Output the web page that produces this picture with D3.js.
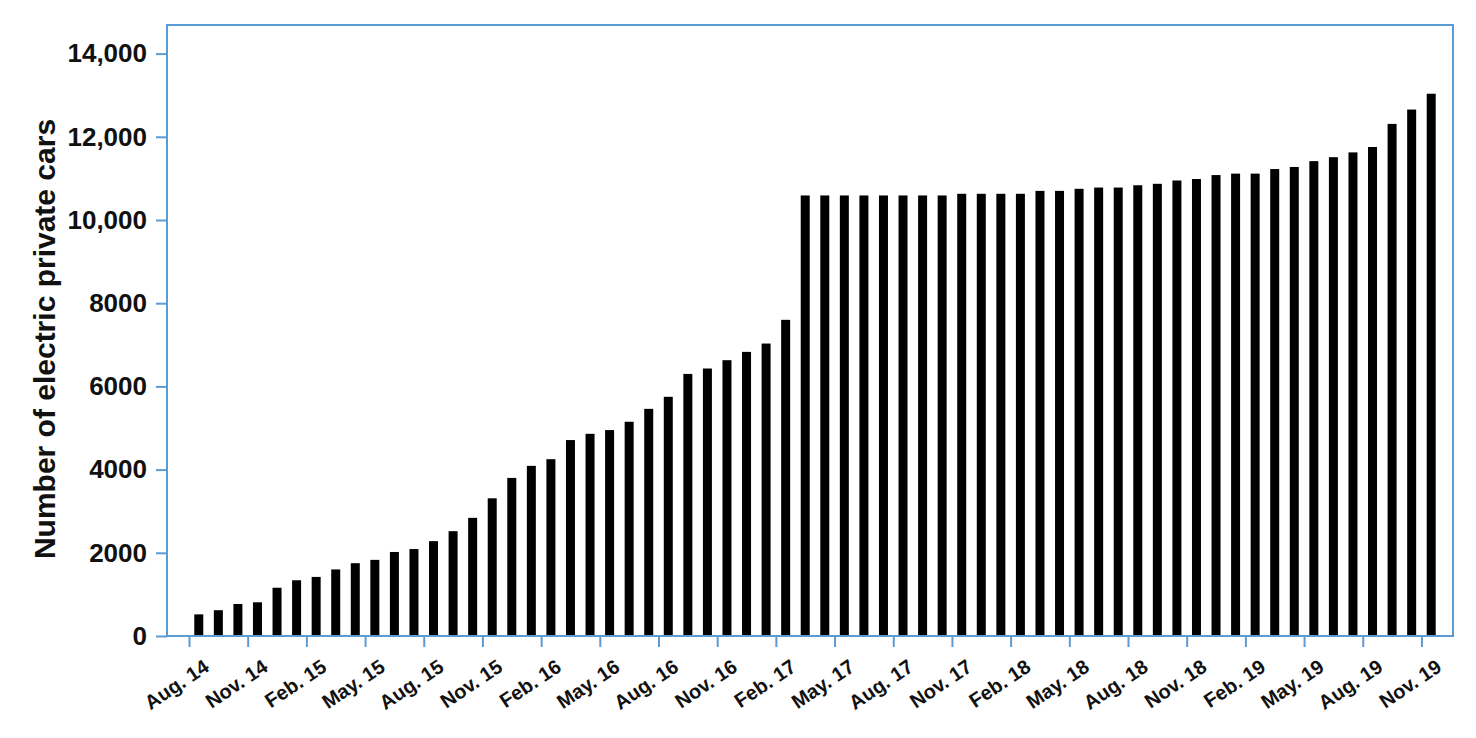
<!DOCTYPE html>
<html>
<head>
<meta charset="utf-8">
<script src="https://cdn.jsdelivr.net/npm/d3@7"></script>
<style>
  html, body { margin: 0; padding: 0; background: #fff; }
  svg { display: block; }
  text { font-family: "Liberation Sans", Arial, Helvetica, sans-serif; }
</style>
</head>
<body>
<svg id="chart" width="1476" height="738"></svg>
<script>
// Months from Aug. 2014 to Nov. 2019 (64 monthly bars)
const monthNames = ["Jan.", "Feb.", "Mar.", "Apr.", "May.", "Jun.", "Jul.", "Aug.", "Sep.", "Oct.", "Nov.", "Dec."];
const months = [];
for (let y = 2014, m = 7; !(y === 2019 && m === 11); ) {
  months.push(monthNames[m] + " " + String(y).slice(2));
  m++; if (m === 12) { m = 0; y++; }
}

// Number of electric private cars
const values = [
  520, 620, 770, 810, 1160, 1340, 1420, 1600, 1750, 1830,
  2020, 2090, 2280, 2520, 2840, 3310, 3800, 4090, 4250, 4710,
  4860, 4950, 5150, 5460, 5750, 6300, 6430, 6630, 6830, 7030,
  7600, 10590, 10590, 10590, 10590, 10590, 10590, 10590, 10590, 10630,
  10630, 10630, 10630, 10700, 10700, 10750, 10780, 10780, 10835, 10870,
  10950, 10985, 11080, 11115, 11115, 11225, 11275, 11415, 11510, 11625,
  11755, 12310, 12655, 13035
];

// Tick labels every 3 months
const tickIndex = d3.range(0, 64, 3);
const tickLabels = tickIndex.map(i => months[i]);
const yTickValues = [0, 2000, 4000, 6000, 8000, 10000, 12000, 14000];

const frameColor = "#5b9bd5";
const svg = d3.select("#chart");

const frame = { left: 167, top: 25, right: 1453, bottom: 636 };

const x = d3.scaleBand()
  .domain(months)
  .range([189, 1441])
  .paddingInner(0.54)
  .paddingOuter(0.27);

const xt = d3.scaleLinear().domain([0, months.length]).range([189, 1441]);

const y = d3.scaleLinear().domain([0, 14000]).range([frame.bottom, 53.6]);

// Bars
svg.append("g")
  .selectAll("rect")
  .data(values)
  .join("rect")
  .attr("x", (d, i) => x(months[i]))
  .attr("width", x.bandwidth())
  .attr("y", d => y(d))
  .attr("height", d => y(0) - y(d))
  .attr("fill", "#000");

// Frame
svg.append("rect")
  .attr("x", frame.left)
  .attr("y", frame.top)
  .attr("width", frame.right - frame.left)
  .attr("height", frame.bottom - frame.top)
  .attr("fill", "none")
  .attr("stroke", frameColor)
  .attr("stroke-width", 2);

// Y axis
const yAxis = svg.append("g")
  .attr("transform", `translate(${frame.left},0)`)
  .call(d3.axisLeft(y)
    .tickValues(yTickValues)
    .tickSize(11)
    .tickPadding(9)
    .tickFormat(d => d >= 10000 ? d3.format(",")(d) : String(d)));
yAxis.select(".domain").remove();
yAxis.selectAll(".tick line").attr("stroke", frameColor).attr("stroke-width", 2);
yAxis.selectAll(".tick text")
  .attr("fill", "#111")
  .style("font-size", "26px")
  .style("font-weight", "bold");

// X axis
const xAxis = svg.append("g")
  .attr("transform", `translate(0,${frame.bottom})`)
  .call(d3.axisBottom(xt)
    .tickValues(tickIndex)
    .tickSize(11)
    .tickFormat((d, i) => tickLabels[i]));
xAxis.select(".domain").remove();
xAxis.selectAll(".tick line").attr("stroke", frameColor).attr("stroke-width", 2);
xAxis.selectAll(".tick text")
  .attr("fill", "#111")
  .attr("text-anchor", "end")
  .attr("x", 0)
  .attr("y", 0)
  .attr("dy", 0)
  .attr("transform", "translate(21,34) rotate(-34)")
  .style("font-size", "20px")
  .style("font-weight", "bold");

// Y axis title
svg.append("text")
  .attr("transform", "translate(55,339) rotate(-90)")
  .attr("text-anchor", "middle")
  .attr("fill", "#111")
  .style("font-size", "30px")
  .style("font-weight", "bold")
  .text("Number of electric private cars");
</script>
</body>
</html>
